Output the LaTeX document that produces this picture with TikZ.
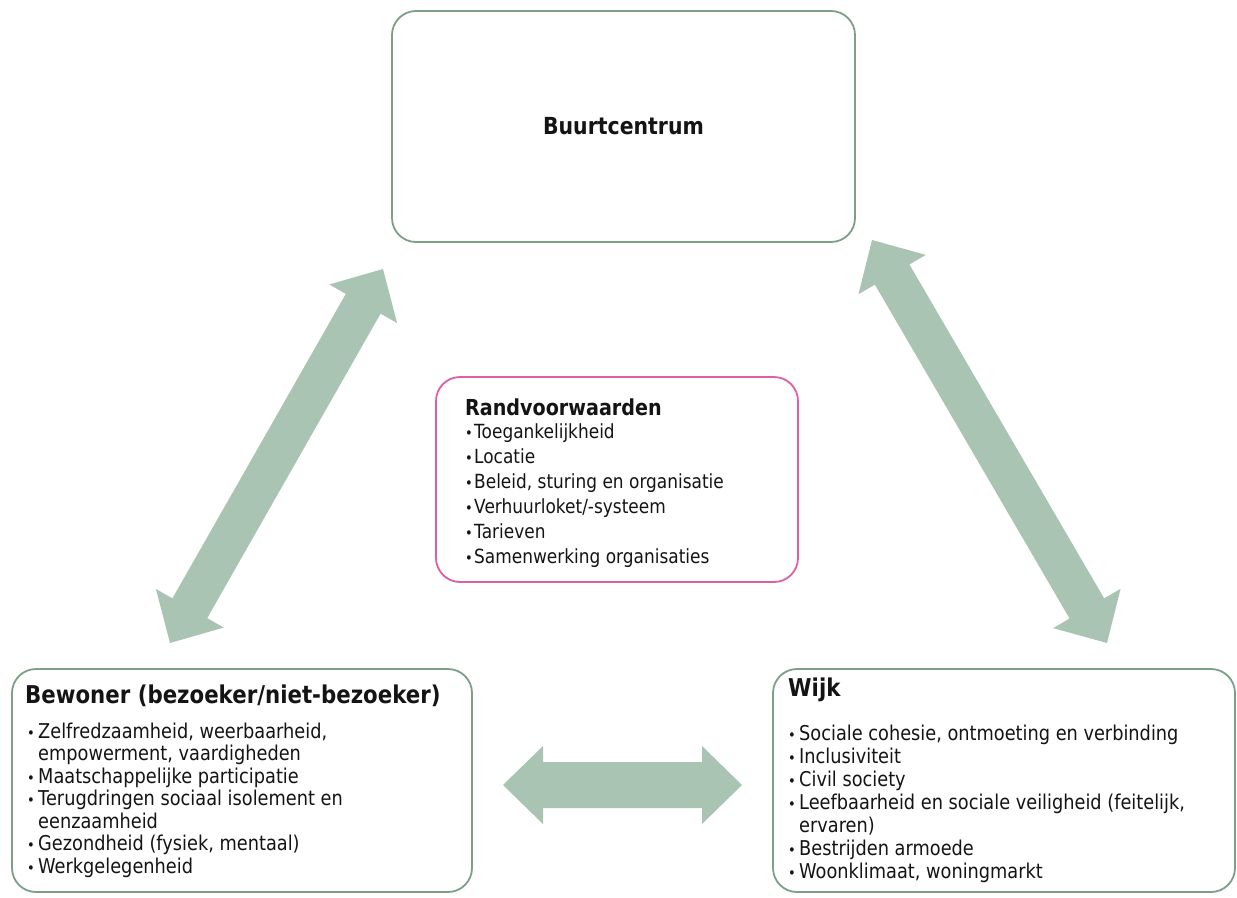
\documentclass[tikz,border=0pt]{standalone}
\usepackage{fontspec}
\setmainfont{DejaVu Sans}[FakeStretch=0.87]
\usetikzlibrary{calc}
\definecolor{boxgreen}{RGB}{122,160,135}
\definecolor{boxpink}{RGB}{222,95,165}
\definecolor{arrowgreen}{RGB}{169,196,179}
\definecolor{ink}{RGB}{20,20,20}
\newcommand\itm[2]{\hbox{\makebox[#1][l]{\fontsize{15}{15}\selectfont\textbullet}#2}}
\newcommand\cnt[2]{\hbox{\hspace{#1}#2}}
\newcommand\dblarrow[4]{%
  \coordinate (#1h) at ($(#1)!40pt!(#2)$);
  \coordinate (#2h) at ($(#2)!40pt!(#1)$);
  \fill[arrowgreen] (#1)
    -- ($(#1h)!#4!90:(#2)$) -- ($(#1h)!#3!90:(#2)$)
    -- ($(#2h)!#3!-90:(#1)$) -- ($(#2h)!#4!-90:(#1)$)
    -- (#2)
    -- ($(#2h)!#4!90:(#1)$) -- ($(#2h)!#3!90:(#1)$)
    -- ($(#1h)!#3!-90:(#2)$) -- ($(#1h)!#4!-90:(#2)$) -- cycle;}
\tikzset{
  box/.style={draw=boxgreen, line width=1.8pt, rounded corners=24pt, fill=white, inner sep=0pt},
  pinkbox/.style={box, draw=boxpink},
  ttl/.style={anchor=base west, inner sep=0pt, text=ink},
  items/.style={anchor=base west, inner sep=0pt, text=ink},
}
\begin{document}
\begin{tikzpicture}[x=1pt, y=-1pt]
\fill[white] (0,0) rectangle (1237,897);
\useasboundingbox (0,0) rectangle (1237,897);

% arrows
\coordinate (la) at (170,643);
\coordinate (lb) at (383,269);
\coordinate (ra) at (872,240);
\coordinate (rb) at (1107,643);
\coordinate (ha) at (503,785);
\coordinate (hb) at (742,785);
\dblarrow{la}{lb}{20pt}{39pt}
\dblarrow{ra}{rb}{20pt}{39pt}
\dblarrow{ha}{hb}{23pt}{39pt}

% boxes
\node[box, minimum width=463pt, minimum height=231pt,
      font=\bfseries\fontsize{23.5}{28}\selectfont, text=ink] (top) at (623.5,126.5) {Buurtcentrum};
\node[pinkbox, minimum width=362pt, minimum height=205pt] (mid) at (617,479.5) {};
\node[box, minimum width=460pt, minimum height=223pt] (bew) at (242,780.5) {};
\node[box, minimum width=462pt, minimum height=223pt] (wijk) at (1004,780.5) {};

% centre texts
\node[ttl, font=\bfseries\fontsize{22}{26}\selectfont] (midt) at (465,415) {Randvoorwaarden};
\node[items, font=\fontsize{19.5}{25}\selectfont] (midi) at (465,438) {\vtop{%
  \itm{9pt}{Toegankelijkheid}
  \itm{9pt}{Locatie}
  \itm{9pt}{Beleid, sturing en organisatie}
  \itm{9pt}{Verhuurloket/-systeem}
  \itm{9pt}{Tarieven}
  \itm{9pt}{Samenwerking organisaties}}};

% bewoner
\node[ttl, font=\bfseries\fontsize{24.5}{28}\selectfont] (bewt) at (25,703) {Bewoner (bezoeker/niet-bezoeker)};
\node[items, font=\fontsize{20.4}{22.5}\selectfont] (bewi) at (27,738) {\vtop{%
  \itm{11pt}{Zelfredzaamheid, weerbaarheid,}
  \cnt{11pt}{empowerment, vaardigheden}
  \itm{11pt}{Maatschappelijke participatie}
  \itm{11pt}{Terugdringen sociaal isolement en}
  \cnt{11pt}{eenzaamheid}
  \itm{11pt}{Gezondheid (fysiek, mentaal)}
  \itm{11pt}{Werkgelegenheid}}};

% wijk
\node[ttl, font=\bfseries\fontsize{24.5}{28}\selectfont] (wijkt) at (788,696) {Wijk};
\node[items, font=\fontsize{20.4}{23}\selectfont] (wijki) at (788,740) {\vtop{%
  \itm{11pt}{Sociale cohesie, ontmoeting en verbinding}
  \itm{11pt}{Inclusiviteit}
  \itm{11pt}{Civil society}
  \itm{11pt}{Leefbaarheid en sociale veiligheid (feitelijk,}
  \cnt{11pt}{ervaren)}
  \itm{11pt}{Bestrijden armoede}
  \itm{11pt}{Woonklimaat, woningmarkt}}};
\end{tikzpicture}
\end{document}
